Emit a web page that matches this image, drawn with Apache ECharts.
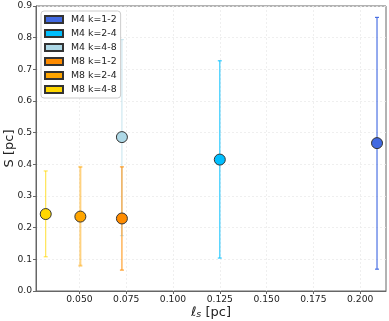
<!DOCTYPE html>
<html lang="en">
<head>
    <meta charset="UTF-8">
    <title>S vs l_s</title>
    <script src="https://cdn.jsdelivr.net/npm/echarts@6/dist/echarts.min.js"></script>
    <style>
        body{ margin: 0; background: #fff; }
        #chart{ width: 389px; height: 321px; }
    </style>
</head>
<body>
<div id="chart"></div>
<script>
    // one entry per group: name, l_s, S, error low, error high
    var names   = ['M4 k=1-2', 'M4 k=2-4', 'M4 k=4-8', 'M8 k=1-2', 'M8 k=2-4', 'M8 k=4-8'];
    var lsVals  = [0.209, 0.125, 0.0727, 0.0727, 0.0505, 0.032];
    var sVals   = [0.467, 0.415, 0.486, 0.229, 0.235, 0.243];
    var errLow  = [0.069, 0.104, 0.175, 0.066, 0.080, 0.108];
    var errHigh = [0.864, 0.727, 0.794, 0.392, 0.392, 0.379];
    var colors  = ['#4169E1', '#00BFFF', '#ADD8E6', '#FF8C00', '#FFA500', '#FFD700'];
    var barAlpha = [0.95, 0.8, 0.6, 0.7, 0.5, 0.8];
    var barWidth = [1.2, 1.2, 1.2, 1.4, 2, 1];
    var xTicks  = [0.050, 0.075, 0.100, 0.125, 0.150, 0.175, 0.200];

    var font = 'DejaVu Sans';
    var series = [];

    // error bars first so points sit on top
    names.forEach(function (n, i) {
        series.push({
            type: 'custom',
            silent: true,
            z: 2,
            data: [[lsVals[i], errLow[i], errHigh[i]]],
            renderItem: function (params, api) {
                var lo = api.coord([api.value(0), api.value(1)]);
                var hi = api.coord([api.value(0), api.value(2)]);
                var style = { stroke: colors[i], lineWidth: barWidth[i], opacity: barAlpha[i] };
                var cap = 2;
                return {
                    type: 'group',
                    children: [
                        { type: 'line', shape: { x1: lo[0], y1: lo[1], x2: hi[0], y2: hi[1] }, style: style },
                        { type: 'line', shape: { x1: lo[0] - cap, y1: lo[1], x2: lo[0] + cap, y2: lo[1] }, style: style },
                        { type: 'line', shape: { x1: hi[0] - cap, y1: hi[1], x2: hi[0] + cap, y2: hi[1] }, style: style }
                    ]
                };
            }
        });
    });
    names.forEach(function (n, i) {
        series.push({
            name: n,
            type: 'scatter',
            z: 5,
            symbolSize: 11,
            data: [[lsVals[i], sVals[i]]],
            itemStyle: { color: colors[i], borderColor: '#333', borderWidth: 1, opacity: 1 }
        });
    });

    var chart = echarts.init(document.getElementById('chart'));
    chart.setOption({
        animation: false,
        textStyle: { fontFamily: font },
        grid: {
            left: 36, right: 3, top: 6, bottom: 30,
            containLabel: false, outerBoundsMode: 'none',
            show: true, borderColor: '#666', borderWidth: 1
        },
        legend: {
            data: names,
            orient: 'vertical',
            left: 41, top: 11,
            icon: 'rect',
            itemWidth: 18, itemHeight: 7,
            itemGap: 3,
            padding: [3, 4, 3, 3],
            backgroundColor: 'rgba(255,255,255,0.85)',
            borderColor: '#ccc', borderWidth: 1, borderRadius: 3,
            textStyle: { fontFamily: font, fontSize: 9.4, color: '#222', lineHeight: 11, padding: [0, 0, 0, 3] }
        },
        xAxis: {
            type: 'value',
            min: 0.0268, max: 0.2138,
            name: '{l|ℓ}{s|s} [pc]',
            nameLocation: 'middle',
            nameMoveOverlap: false,
            nameGap: 14,
            nameTextStyle: {
                fontFamily: font, fontSize: 13, color: '#222',
                rich: {
                    l: { fontFamily: font, fontSize: 13, fontStyle: 'italic', color: '#222' },
                    s: { fontFamily: font, fontSize: 9.5, fontStyle: 'italic', color: '#222', padding: [5, 0, 0, 0] }
                }
            },
            axisLine: { show: true, lineStyle: { color: '#666' } },
            axisTick: { show: true, length: 3, customValues: xTicks, lineStyle: { color: '#666' } },
            axisLabel: {
                customValues: xTicks, fontSize: 9.2, color: '#222', margin: 4,
                formatter: function (v) { return v.toFixed(3); }
            },
            splitLine: { show: true, lineStyle: { color: '#ebebeb', type: [2, 2], width: 0.8 } }
        },
        yAxis: {
            type: 'value',
            min: 0, max: 0.9, interval: 0.1,
            name: 'S [pc]',
            nameLocation: 'middle',
            nameMoveOverlap: false,
            nameGap: 20,
            nameTextStyle: { fontFamily: font, fontSize: 13, color: '#222' },
            axisLine: { show: true, lineStyle: { color: '#666' } },
            axisTick: { show: true, length: 3, lineStyle: { color: '#666' } },
            axisLabel: {
                fontSize: 9.2, color: '#222', margin: 4,
                formatter: function (v) { return v.toFixed(1); }
            },
            splitLine: { show: true, lineStyle: { color: '#ebebeb', type: [2, 2], width: 0.8 } }
        },
        series: series
    });
</script>
</body>
</html>
